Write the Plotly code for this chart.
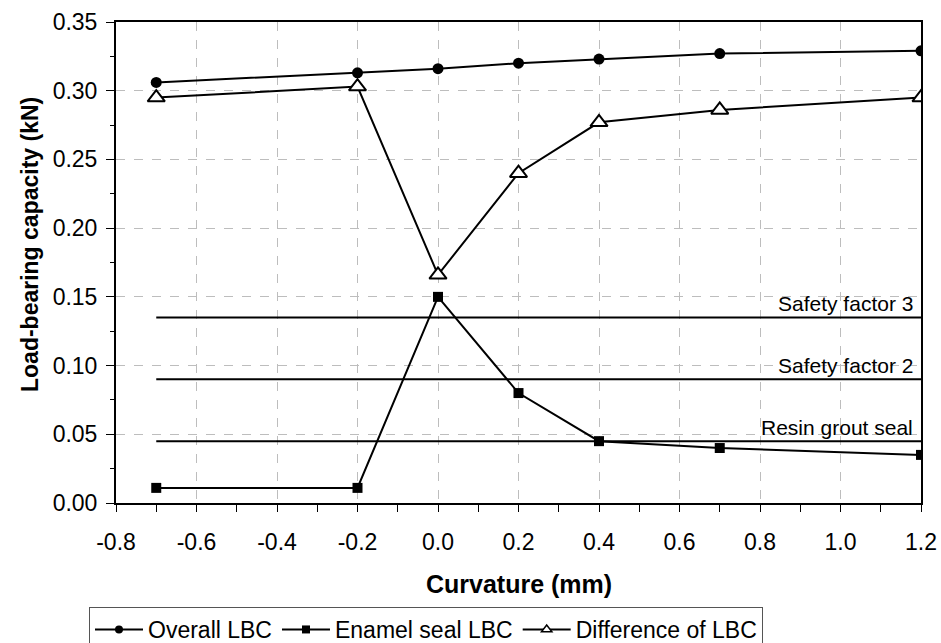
import plotly.graph_objects as go

curvature = [-0.7, -0.2, 0.0, 0.2, 0.4, 0.7, 1.2]
overall_lbc = [0.306, 0.313, 0.316, 0.320, 0.323, 0.327, 0.329]
enamel_lbc = [0.011, 0.011, 0.150, 0.080, 0.045, 0.040, 0.035]
difference_lbc = [0.295, 0.303, 0.166, 0.240, 0.277, 0.286, 0.295]

ref_x = [-0.7, 1.2]
ref_names = ["Safety factor 3", "Safety factor 2", "Resin grout seal"]
ref_values = [0.135, 0.090, 0.045]

x_ticks = [-0.8, -0.6, -0.4, -0.2, 0.0, 0.2, 0.4, 0.6, 0.8, 1.0, 1.2]
y_ticks = [0, 0.05, 0.10, 0.15, 0.20, 0.25, 0.30, 0.35]

FONT = "Liberation Sans, Arial, sans-serif"

fig = go.Figure()

for name, val in zip(ref_names, ref_values):
    fig.add_trace(go.Scatter(x=ref_x, y=[val, val], mode="lines",
                             line=dict(color="black", width=2),
                             showlegend=False, hoverinfo="skip"))
    fig.add_annotation(x=ref_x[1], y=val, text=name, showarrow=False,
                       xanchor="right", yanchor="bottom", xshift=-6, yshift=0,
                       font=dict(family=FONT, size=21, color="black"))

series = [
    ("Overall LBC", overall_lbc, dict(symbol="circle", size=11, color="black")),
    ("Enamel seal LBC", enamel_lbc, dict(symbol="square", size=10, color="black")),
    ("Difference of LBC", difference_lbc,
     dict(symbol="triangle-up", size=15, color="white", line=dict(color="black", width=2))),
]
for name, vals, mk in series:
    fig.add_trace(go.Scatter(x=curvature, y=vals, mode="lines+markers", name=name,
                             line=dict(color="black", width=2), marker=mk,
                             showlegend=False))

legend_markers = [
    dict(symbol="circle", size=8, color="black"),
    dict(symbol="square", size=8, color="black"),
    dict(symbol="triangle-up", size=9, color="white", line=dict(color="black", width=1.5)),
]
for (name, _, _), mk in zip(series, legend_markers):
    fig.add_trace(go.Scatter(x=[None], y=[None], mode="lines+markers", name=name,
                             line=dict(color="black", width=2), marker=mk))

# axis titles placed as annotations for exact positioning
fig.add_annotation(xref="paper", yref="paper", x=0.5, y=(503 - 584) / 481,
                   text="<b>Curvature (mm)</b>", showarrow=False,
                   xanchor="center", yanchor="middle",
                   font=dict(family=FONT, size=25, color="black"))
fig.add_annotation(xref="paper", yref="paper", x=0, xshift=-86, y=(503 - 245) / 481,
                   text="<b>Load-bearing capacity (kN)</b>", showarrow=False, textangle=-90,
                   xanchor="center", yanchor="middle",
                   font=dict(family=FONT, size=23, color="black"))

fig.update_layout(
    width=941, height=643,
    margin=dict(l=116, r=20, t=22, b=140),
    paper_bgcolor="white", plot_bgcolor="white",
    font=dict(family=FONT, size=23, color="black"),
    legend=dict(orientation="h", xref="container", yref="container",
                x=89 / 941, xanchor="left", y=1 - 607 / 643, yanchor="top",
                bordercolor="#555", borderwidth=1, font=dict(size=23),
                itemwidth=48),
)

fig.update_xaxes(
    range=[-0.8, 1.2], tickvals=x_ticks,
    ticktext=[f"{v:.1f}" for v in x_ticks],
    showline=True, linecolor="black", linewidth=2, mirror=True,
    ticks="outside", ticklen=7, tickwidth=1, tickcolor="black", ticklabelstandoff=10,
    minor=dict(dtick=0.1, ticks="outside", ticklen=7, tickcolor="black", showgrid=False),
    showgrid=True, gridcolor="#bdbdbd", griddash="dash", gridwidth=1,
    zeroline=False, automargin=False,
)
fig.update_yaxes(
    range=[0, 0.35], tickvals=y_ticks,
    ticktext=[f"{v:.2f}" for v in y_ticks],
    showline=True, linecolor="black", linewidth=2, mirror=True,
    ticks="outside", ticklen=8, tickwidth=1, tickcolor="black", ticklabelstandoff=4,
    minor=dict(dtick=0.025, ticks="outside", ticklen=4, tickcolor="black", showgrid=False),
    showgrid=True, gridcolor="#bdbdbd", griddash="dash", gridwidth=1,
    zeroline=False, automargin=False,
)

fig.write_html("out.html", config={"displayModeBar": False},
               post_script="document.body.style.margin='0';document.body.style.overflow='hidden';")
